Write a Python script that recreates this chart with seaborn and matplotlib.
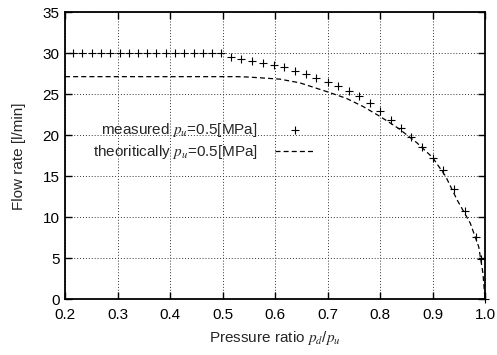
import matplotlib
matplotlib.use("Agg")
import matplotlib.pyplot as plt
import seaborn as sns
import numpy as np

# measured points, p_u = 0.5 MPa
measured_ratio = [0.216, 0.233, 0.251, 0.269, 0.286, 0.304, 0.322, 0.339, 0.357,
                  0.374, 0.392, 0.410, 0.427, 0.445, 0.463, 0.480, 0.498,
                  0.517, 0.536, 0.556, 0.577, 0.598, 0.618, 0.639, 0.659, 0.679,
                  0.700, 0.720, 0.740, 0.760, 0.780, 0.800, 0.820, 0.840, 0.859,
                  0.880, 0.900, 0.920, 0.940, 0.961, 0.982, 0.993, 1.000]
measured_flow = [30.0] * 17 + [29.6, 29.35, 29.0, 28.85, 28.6, 28.3, 27.9, 27.5, 26.95,
                               26.45, 25.95, 25.45, 24.83, 23.95, 23.0, 21.85, 20.85, 19.83,
                               18.6, 17.2, 15.77, 13.5, 10.8, 7.63, 4.9, 0.0]

# theoretical curve
theory_ratio = [0.2, 0.3, 0.4, 0.5, 0.528, 0.55, 0.609, 0.647, 0.7, 0.736, 0.768, 0.8,
                0.835, 0.87, 0.9, 0.925, 0.947, 0.972, 0.988, 0.996, 1.0]
theory_flow = [27.15, 27.15, 27.15, 27.15, 27.15, 27.1, 26.85, 26.4, 25.3, 24.5, 23.5,
               22.3, 20.85, 19.1, 17.3, 15.0, 12.1, 9.27, 6.4, 3.2, 0.0]

sns.set_style("ticks")
plt.rcParams['font.family'] = ['Liberation Sans', 'DejaVu Sans']
plt.rcParams['mathtext.fontset'] = 'stix'
fs = 11

fig = plt.figure(figsize=(4.97, 3.55), dpi=100)
ax = fig.add_axes([0.1308, 0.1569, 0.8451, 0.8085])

sns.scatterplot(x=measured_ratio, y=measured_flow, marker='+', color='black',
                s=26, linewidth=0.8, label=r'measured $p_u$=0.5[MPa]', ax=ax,
                clip_on=False, zorder=3)
sns.lineplot(x=theory_ratio, y=theory_flow, color='black', linewidth=0.9,
             label=r'theoritically $p_u$=0.5[MPa]', ax=ax)
ax.lines[-1].set_dashes((4, 2.5))

ax.set_xlim(0.2, 1.0)
ax.set_ylim(0, 35)
ax.set_xticks(np.arange(0.2, 1.01, 0.1))
ax.set_yticks(np.arange(0, 36, 5))
ax.set_xticklabels(['0.2', '0.3', '0.4', '0.5', '0.6', '0.7', '0.8', '0.9', '1.0'])
ax.grid(True, color='#333333', linestyle=(0, (1, 2)), linewidth=0.7)
ax.tick_params(direction='in', top=True, right=True, length=5, width=1,
               labelsize=fs, colors='black', pad=4)
ax.tick_params(axis='x', pad=6)
for s in ax.spines.values():
    s.set_visible(True)
    s.set_linewidth(1.3)
    s.set_color('black')

ax.set_xlabel(r'Pressure ratio $p_d$/$p_u$', fontsize=fs, labelpad=5)
ax.set_ylabel('Flow rate [l/min]', fontsize=fs, labelpad=12)

ax.legend(loc='center right', bbox_to_anchor=(0.612, 0.551), frameon=False,
          markerfirst=False, handlelength=2.6, handletextpad=1.1,
          labelspacing=0.25, borderpad=0, fontsize=fs)

fig.savefig('out.png', dpi=100)
